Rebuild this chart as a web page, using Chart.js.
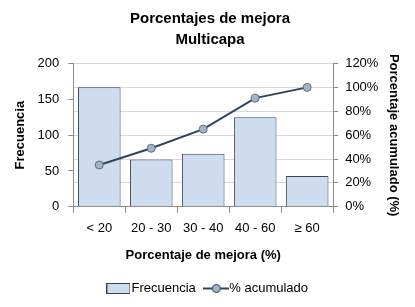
<!DOCTYPE html>
<html>
<head>
<meta charset="utf-8">
<script src="https://cdn.jsdelivr.net/npm/chart.js@4"></script>
<style>
  html, body { margin: 0; padding: 0; background: #fff; }
  #wrap { width: 415px; height: 307px; }
</style>
</head>
<body>
<div id="wrap"><canvas id="pareto"></canvas></div>
<script>
// data
const categories = ["< 20", "20 - 30", "30 - 40", "40 - 60", "\u2265 60"];
const frecuencia = [167, 66, 74, 125, 43];
const acumulado = [35, 49, 65, 91, 100];
const leftTicks = [0, 50, 100, 150, 200];
const rightTicks = [0, 20, 40, 60, 80, 100, 120];

const FONT = "'Liberation Sans', Arial, sans-serif";
const barFill = "#cfdcef";
const barLine = "#34445a";
const lineCol = "#2c4560";
const dotFill = "#a4b3c6";

// little legend icons
function barIcon() {
  const c = document.createElement("canvas");
  c.width = 24; c.height = 11;
  const g = c.getContext("2d");
  g.fillStyle = barFill;
  g.fillRect(0.5, 0.5, 23, 10);
  g.strokeStyle = barLine;
  g.lineWidth = 1;
  g.strokeRect(0.5, 0.5, 23, 10);
  return c;
}
function lineIcon() {
  const c = document.createElement("canvas");
  c.width = 26; c.height = 11;
  const g = c.getContext("2d");
  g.strokeStyle = lineCol;
  g.lineWidth = 2;
  g.beginPath(); g.moveTo(0, 5.5); g.lineTo(26, 5.5); g.stroke();
  g.fillStyle = dotFill;
  g.lineWidth = 1;
  g.beginPath(); g.arc(13, 5.5, 4, 0, Math.PI * 2); g.fill(); g.stroke();
  return c;
}

const ctx = document.getElementById("pareto");
new Chart(ctx, {
  data: {
    labels: categories,
    datasets: [
      {
        type: "line",
        label: "% acumulado",
        data: acumulado,
        yAxisID: "y1",
        borderColor: lineCol,
        borderWidth: 2,
        pointRadius: 4,
        pointBackgroundColor: dotFill,
        pointBorderColor: "#5a6e84",
        pointBorderWidth: 1,
        order: 0,
      },
      {
        type: "bar",
        label: "Frecuencia",
        data: frecuencia,
        yAxisID: "y",
        backgroundColor: barFill,
        borderColor: barLine,
        borderWidth: 1,
        barPercentage: 0.82,
        categoryPercentage: 1,
        order: 1,
      },
    ],
  },
  options: {
    responsive: true,
    maintainAspectRatio: false,
    animation: false,
    layout: { padding: { left: 13, right: 8, top: 2, bottom: 2 } },
    scales: {
      x: {
        offset: true,
        grid: { offset: true, drawOnChartArea: false, tickLength: 6, color: "#8a8a8a" },
        border: { color: "#8a8a8a" },
        ticks: { color: "#000", font: { family: FONT, size: 13 }, padding: 8 },
        title: {
          display: true,
          text: "Porcentaje de mejora (%)",
          color: "#000",
          font: { family: FONT, size: 13, weight: "bold" },
          padding: { top: 3, bottom: 5 },
        },
      },
      y: {
        position: "left",
        min: 0,
        max: 200,
        afterBuildTicks: (axis) => { axis.ticks = leftTicks.map((v) => ({ value: v })); },
        grid: { drawOnChartArea: false, tickLength: 5, color: "#8a8a8a" },
        border: { color: "#8a8a8a" },
        ticks: { color: "#000", font: { family: FONT, size: 13 }, padding: 9 },
        title: {
          display: true,
          text: "Frecuencia",
          color: "#000",
          font: { family: FONT, size: 13, weight: "bold" },
          padding: { top: 0, bottom: 0 },
        },
      },
      y1: {
        position: "right",
        min: 0,
        max: 120,
        afterBuildTicks: (axis) => { axis.ticks = rightTicks.map((v) => ({ value: v })); },
        grid: { drawOnChartArea: true, color: "#d9d9d9", tickColor: "#8a8a8a", tickLength: 5 },
        border: { color: "#8a8a8a" },
        ticks: {
          color: "#000",
          font: { family: FONT, size: 13 },
          padding: 7,
          callback: (v) => v + "%",
        },
        title: {
          display: true,
          text: "Porcentaje acumulado (%)",
          color: "#000",
          font: { family: FONT, size: 13, weight: "bold" },
          padding: { top: 6, bottom: 0 },
        },
      },
    },
    plugins: {
      title: {
        display: true,
        text: ["Porcentajes de mejora", "Multicapa"],
        color: "#000",
        font: { family: FONT, size: 15, weight: "bold", lineHeight: 1.35 },
        padding: { top: 7, bottom: 14 },
      },
      tooltip: { enabled: false },
      legend: {
        position: "bottom",
        labels: {
          color: "#000",
          font: { family: FONT, size: 13 },
          usePointStyle: true,
          padding: 14,
          generateLabels: (chart) => [
            { text: "Frecuencia", pointStyle: barIcon(), datasetIndex: 1, fontColor: "#000", lineWidth: 0 },
            { text: "% acumulado", pointStyle: lineIcon(), datasetIndex: 0, fontColor: "#000", lineWidth: 0 },
          ],
        },
      },
    },
  },
});
</script>
</body>
</html>
